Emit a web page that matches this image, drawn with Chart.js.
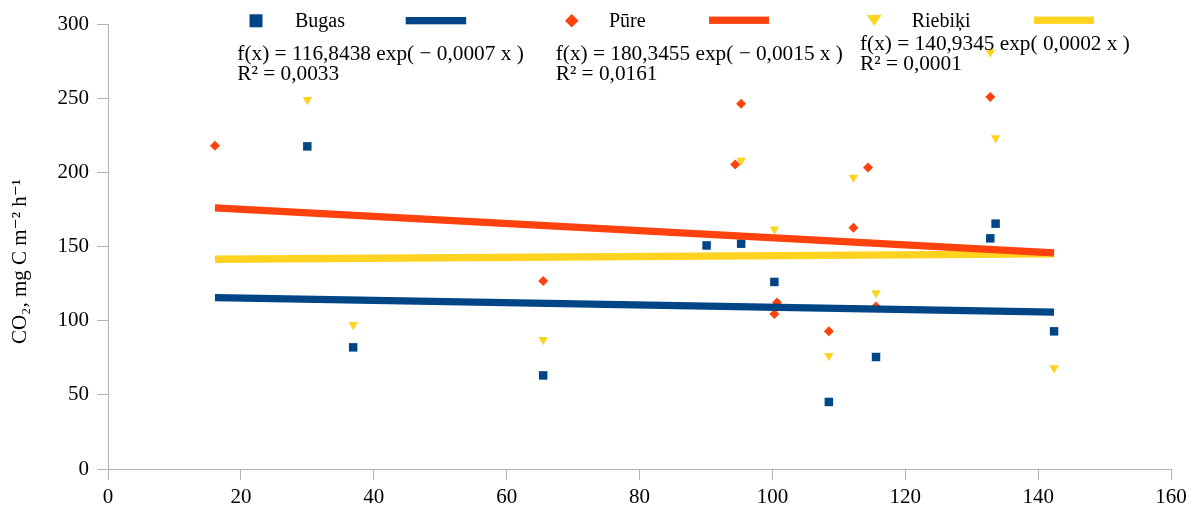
<!DOCTYPE html>
<html>
<head>
<meta charset="utf-8">
<script src="https://cdn.jsdelivr.net/npm/chart.js@4.4.0/dist/chart.umd.min.js"></script>
<style>
  html, body { margin: 0; padding: 0; background: #fff; }
  #wrap { width: 1197px; height: 511px; }
</style>
</head>
<body>
<div id="wrap"><canvas id="co2Chart" width="1197" height="511"></canvas></div>
<script>
// --- data ---
const seriesNames = ['Bugas', 'Pūre', 'Riebiķi'];

const bugasX = [30.0, 36.9, 65.5, 90.1, 95.3, 100.3, 108.5, 115.6, 132.8, 133.6, 142.4];
const bugasY = [217.5, 82.0, 63.1, 150.7, 151.9, 126.1, 45.2, 75.5, 155.5, 165.4, 92.8];

const pureX = [16.1, 65.5, 94.4, 95.3, 100.3, 100.7, 108.5, 112.2, 114.4, 115.6, 132.8];
const pureY = [218.0, 126.7, 205.2, 246.3, 104.5, 112.3, 92.8, 162.7, 203.3, 109.6, 250.8];

const riebikiX = [30.0, 36.9, 65.5, 95.3, 100.3, 108.5, 112.2, 115.6, 132.8, 133.6, 142.4];
const riebikiY = [249.0, 97.3, 87.2, 208.0, 161.6, 76.4, 196.6, 118.7, 280.9, 223.2, 68.1];

// trend line ends (exponential fits, nearly straight over this range)
const trendX = [16.1, 142.4];
const bugasTrend = [115.5, 105.8];
const pureTrend = [176.0, 145.7];
const riebikiTrend = [141.4, 145.0];

const equations = [
    'f(x) = 116,8438 exp( \u2212 0,0007 x )',
    'f(x) = 180,3455 exp( \u2212 0,0015 x )',
    'f(x) = 140,9345 exp( 0,0002 x )'
];
const rSquared = ['R\u00b2 = 0,0033', 'R\u00b2 = 0,0161', 'R\u00b2 = 0,0001'];
const yTitle = 'CO\u2082, mg C m\u207b\u00b2 h\u207b\u00b9';

const colors = ['#004586', '#ff420e', '#ffd320'];
const FONT = "'Liberation Serif', 'DejaVu Serif', serif";

function toPoints(xs, ys) {
    return xs.map((x, i) => ({ x: x, y: ys[i] }));
}

// legend, equations and axis title are placed like in the original (LibreOffice) chart
const annotationsPlugin = {
    id: 'annotations',
    afterDraw(chart) {
        const ctx = chart.ctx;
        ctx.save();
        ctx.fillStyle = '#000';
        ctx.textBaseline = 'alphabetic';

        // legend
        ctx.fillStyle = colors[0];
        ctx.fillRect(249.5, 14.3, 13, 13);
        ctx.fillRect(405.7, 17, 60.5, 7.3);
        ctx.fillStyle = colors[1];
        ctx.beginPath();
        ctx.moveTo(571.7, 14); ctx.lineTo(578.4, 20.7); ctx.lineTo(571.7, 27.4); ctx.lineTo(565, 20.7);
        ctx.closePath(); ctx.fill();
        ctx.fillRect(709, 16.6, 60, 7.3);
        ctx.fillStyle = colors[2];
        ctx.beginPath();
        ctx.moveTo(866.7, 15); ctx.lineTo(881.7, 15); ctx.lineTo(874.2, 25.7);
        ctx.closePath(); ctx.fill();
        ctx.fillRect(1034, 16.6, 60, 7.3);

        ctx.fillStyle = '#000';
        ctx.font = '20px ' + FONT;
        ctx.fillText(seriesNames[0], 295, 27);
        ctx.fillText(seriesNames[1], 609, 27);
        ctx.fillText(seriesNames[2], 911.7, 27);

        // regression equations
        ctx.font = '21.3px ' + FONT;
        const eqPos = [[237.3, 60], [555.7, 60], [860, 50]];
        eqPos.forEach((p, i) => {
            ctx.fillText(equations[i], p[0], p[1]);
            ctx.fillText(rSquared[i], p[0], p[1] + 20);
        });

        // y axis title
        ctx.font = '21px ' + FONT;
        ctx.translate(20, 261.5);
        ctx.rotate(-Math.PI / 2);
        ctx.textAlign = 'center';
        ctx.textBaseline = 'middle';
        ctx.fillText(yTitle, 0, 0);
        ctx.restore();
    }
};

const ctx = document.getElementById('co2Chart').getContext('2d');
new Chart(ctx, {
    type: 'scatter',
    data: {
        datasets: [
            {
                type: 'line', label: 'Bugas trend', data: toPoints(trendX, bugasTrend),
                borderColor: colors[0], borderWidth: 7.3, pointRadius: 0, showLine: true, order: 0
            },
            {
                type: 'line', label: 'Pūre trend', data: toPoints(trendX, pureTrend),
                borderColor: colors[1], borderWidth: 7.3, pointRadius: 0, showLine: true, order: 0
            },
            {
                type: 'line', label: 'Riebiķi trend', data: toPoints(trendX, riebikiTrend),
                borderColor: colors[2], borderWidth: 7.3, pointRadius: 0, showLine: true, order: 0
            },
            {
                label: seriesNames[0], data: toPoints(bugasX, bugasY),
                pointStyle: 'rect', pointRadius: 6, borderWidth: 0,
                backgroundColor: colors[0], borderColor: colors[0], order: 1
            },
            {
                label: seriesNames[1], data: toPoints(pureX, pureY),
                pointStyle: 'rectRot', pointRadius: 5, borderWidth: 0,
                backgroundColor: colors[1], borderColor: colors[1], order: 1
            },
            {
                label: seriesNames[2], data: toPoints(riebikiX, riebikiY),
                pointStyle: 'triangle', rotation: 180, pointRadius: 5.5, borderWidth: 0,
                backgroundColor: colors[2], borderColor: colors[2], order: 1
            }
        ]
    },
    options: {
        responsive: false,
        animation: false,
        devicePixelRatio: 1,
        layout: { padding: { top: 24, right: 26, left: 0, bottom: 0 } },
        plugins: {
            legend: { display: false },
            tooltip: { enabled: false }
        },
        scales: {
            x: {
                type: 'linear',
                min: 0, max: 160,
                ticks: { stepSize: 20, color: '#000', font: { family: FONT, size: 21 }, padding: 5 },
                grid: { drawOnChartArea: false, drawTicks: true, tickLength: 11, color: '#b3b3b3' },
                border: { color: '#b3b3b3', width: 1 },
                afterFit(scale) { scale.height = 42; }
            },
            y: {
                min: 0, max: 300,
                ticks: { stepSize: 50, color: '#000', font: { family: FONT, size: 21 }, padding: 8 },
                grid: { drawOnChartArea: false, drawTicks: true, tickLength: 11, color: '#b3b3b3' },
                border: { color: '#b3b3b3', width: 1 },
                afterFit(scale) { scale.width = 108; }
            }
        }
    },
    plugins: [annotationsPlugin]
});
</script>
</body>
</html>
